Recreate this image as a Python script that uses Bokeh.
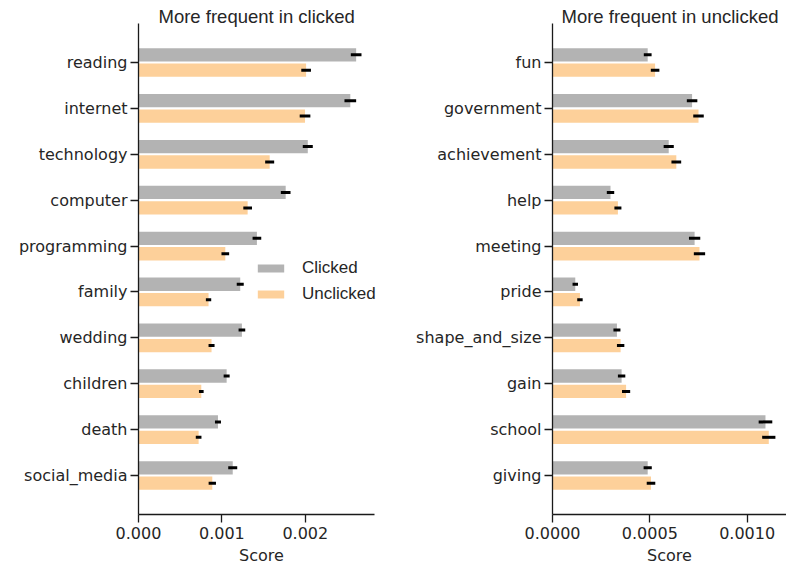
from bokeh.plotting import figure
from bokeh.layouts import row
from bokeh.models import (ColumnDataSource, FactorRange, FixedTicker, NumeralTickFormatter,
                          Range1d, Title, Legend, LegendItem)
from bokeh.transform import dodge
from bokeh.embed import file_html
from bokeh.resources import INLINE

# ---- data: left panel (more frequent in clicked) ----
left_words = ["reading", "internet", "technology", "computer", "programming",
              "family", "wedding", "children", "death", "social_media"]
left_clicked = [0.00261, 0.00254, 0.00203, 0.001765, 0.00142,
                0.00122, 0.00124, 0.001057, 0.000953, 0.00113]
left_unclicked = [0.00201, 0.001997, 0.001573, 0.001309, 0.001041,
                  0.00084, 0.000876, 0.000753, 0.000721, 0.000885]
left_err_clicked = [0.000064, 0.00007, 0.00006, 0.000058, 0.000052,
                    0.000042, 0.00004, 0.000036, 0.000036, 0.000054]
left_err_unclicked = [0.000058, 0.000064, 0.000054, 0.000052, 0.000046,
                      0.000032, 0.000036, 0.000028, 0.000034, 0.000044]

# ---- data: right panel (more frequent in unclicked) ----
right_words = ["fun", "government", "achievement", "help", "meeting",
               "pride", "shape_and_size", "gain", "school", "giving"]
right_clicked = [0.000489, 0.000717, 0.000597, 0.000298, 0.00073,
                 0.000117, 0.000331, 0.000355, 0.001094, 0.000489]
right_unclicked = [0.000527, 0.00075, 0.000636, 0.000336, 0.000755,
                   0.000141, 0.00035, 0.000378, 0.001111, 0.000506]
right_err_clicked = [0.00002, 0.000027, 0.000026, 0.000019, 0.000029,
                     0.000014, 0.000018, 0.000019, 0.000035, 0.000021]
right_err_unclicked = [0.000022, 0.000027, 0.000025, 0.000018, 0.000029,
                       0.000014, 0.000019, 0.000021, 0.000034, 0.000022]

left_ticks = [0.0, 0.001, 0.002]
right_ticks = [0.0, 0.0005, 0.001]
series_labels = ["Clicked", "Unclicked"]
titles = ["More frequent in clicked", "More frequent in unclicked"]

GRAY = "#b3b3b3"
ORANGE = "#fdd09a"
TXT = "#262626"
H = 567


def panel(words, c, u, ec, eu, title, title_off, xmax, axis_end, ticks, fmt, width, mbl, mbr,
          legend_loc=None):
    src = ColumnDataSource(dict(
        word=words, c=c, u=u,
        c_lo=[v - e for v, e in zip(c, ec)], c_hi=[v + e for v, e in zip(c, ec)],
        u_lo=[v - e for v, e in zip(u, eu)], u_hi=[v + e for v, e in zip(u, eu)],
    ))
    yr = FactorRange(factors=words[::-1], range_padding=0.35, range_padding_units="absolute")
    p = figure(y_range=yr, x_range=Range1d(0, xmax), width=width, height=H,
               output_backend="svg", toolbar_location=None,
               min_border_left=mbl, min_border_right=mbr, min_border_top=23, min_border_bottom=51)
    p.title = Title(text=title, align="left", offset=title_off, standoff=-7,
                    text_font="Liberation Sans", text_font_size="18.5px",
                    text_font_style="normal", text_color=TXT)
    off = 0.168
    r1 = p.hbar(y=dodge("word", off, range=yr), left=0, right="c", height=0.29,
                source=src, fill_color=GRAY, line_color=None)
    r2 = p.hbar(y=dodge("word", -off, range=yr), left=0, right="u", height=0.29,
                source=src, fill_color=ORANGE, line_color=None)
    p.segment(x0="c_lo", x1="c_hi", y0=dodge("word", off, range=yr), y1=dodge("word", off, range=yr),
              source=src, line_color="black", line_width=3)
    p.segment(x0="u_lo", x1="u_hi", y0=dodge("word", -off, range=yr), y1=dodge("word", -off, range=yr),
              source=src, line_color="black", line_width=3)

    p.xgrid.visible = False
    p.ygrid.visible = False
    p.outline_line_color = None

    for ax in (p.xaxis[0], p.yaxis[0]):
        ax.axis_line_color = "#1a1a1a"
        ax.axis_line_width = 1.3
        ax.major_tick_line_color = "#1a1a1a"
        ax.major_tick_line_width = 1.3
        ax.major_tick_in = 0
        ax.minor_tick_out = 0
        ax.minor_tick_in = 0
        ax.major_label_text_font = "DejaVu Sans"
        ax.major_label_text_font_size = "16px"
        ax.major_label_text_color = TXT

    p.xaxis.ticker = FixedTicker(ticks=ticks)
    p.xaxis.formatter = NumeralTickFormatter(format=fmt)
    p.xaxis.bounds = (0, axis_end)
    p.xaxis.major_tick_out = 8
    p.xaxis.major_label_standoff = 4
    p.xaxis.axis_label = "Score"
    p.xaxis.axis_label_text_font = "DejaVu Sans"
    p.xaxis.axis_label_text_font_style = "normal"
    p.xaxis.axis_label_text_font_size = "16px"
    p.xaxis.axis_label_text_color = TXT
    p.xaxis.axis_label_standoff = 4
    p.yaxis.major_tick_out = 8
    p.yaxis.major_label_standoff = 3

    if legend_loc is not None:
        lg = Legend(items=[LegendItem(label=series_labels[0], renderers=[r1]),
                           LegendItem(label=series_labels[1], renderers=[r2])],
                    location=legend_loc, border_line_color=None, background_fill_alpha=0,
                    padding=0, margin=0, spacing=6, glyph_width=33, glyph_height=10,
                    label_standoff=15, label_height=20, label_text_font="Liberation Sans",
                    label_text_font_size="17px", label_text_color=TXT)
        p.add_layout(lg)
    return p


p1 = panel(left_words, left_clicked, left_unclicked, left_err_clicked, left_err_unclicked,
           titles[0], 20, 0.00295, 0.00283, left_ticks, "0.000", 400, 138, 16, legend_loc=(116, 210))
p2 = panel(right_words, right_clicked, right_unclicked, right_err_clicked, right_err_unclicked,
           titles[1], 9, 0.001202, 0.001202, right_ticks, "0.0000", 386, 152, 0)

layout = row(p1, p2)
open("out.html", "w").write(file_html(layout, INLINE))
